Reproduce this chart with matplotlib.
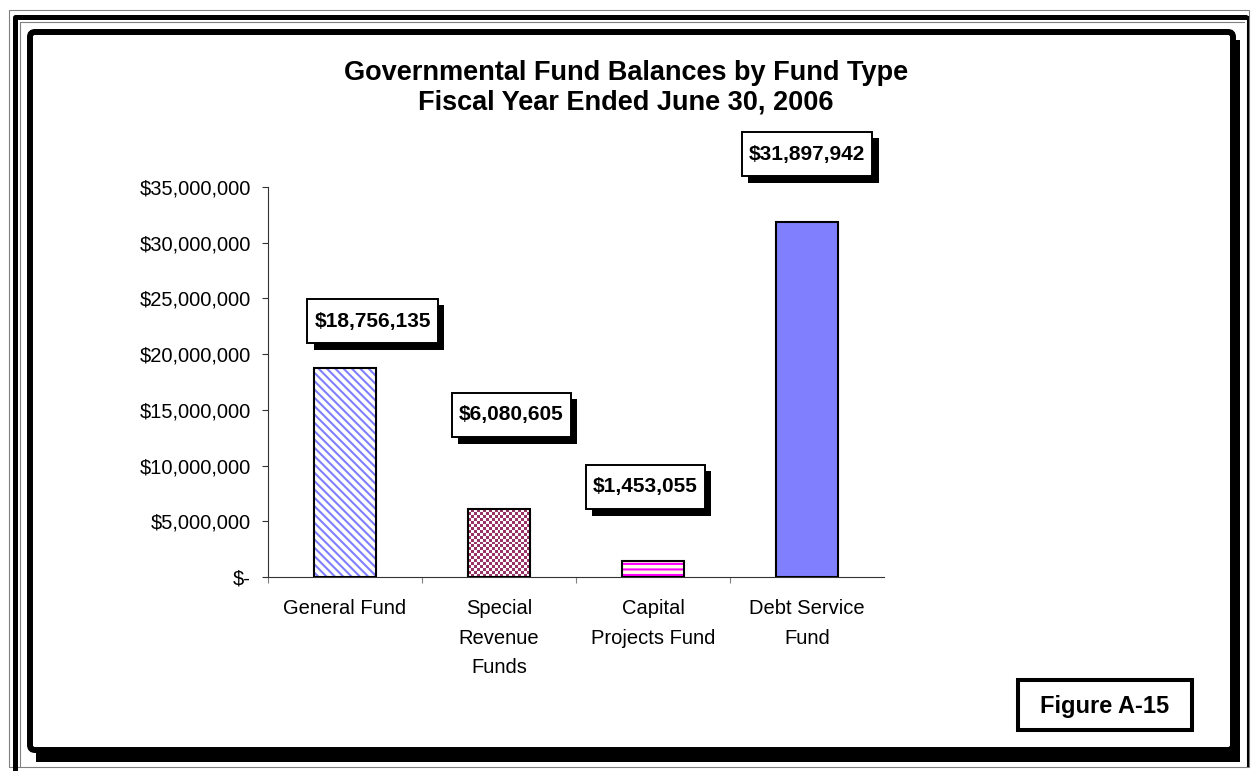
import matplotlib
matplotlib.use('Agg')
import matplotlib.pyplot as plt
import matplotlib.patches as patches
import matplotlib.patheffects as pe
from matplotlib.colors import ListedColormap
from matplotlib.path import Path
from matplotlib.ticker import FuncFormatter, FixedLocator
import numpy as np

plt.rcParams['font.family'] = ['Liberation Sans', 'DejaVu Sans']
plt.rcParams['hatch.linewidth'] = 1.5

# data
funds = ['General Fund', 'Special\nRevenue\nFunds', 'Capital\nProjects Fund', 'Debt Service\nFund']
balances = [18756135, 6080605, 1453055, 31897942]
# where the value boxes sit (category units, dollars)
label_pos = [(0.18, 22.97e6), (1.08, 14.54e6), (1.95, 8.08e6), (3.0, 37.96e6)]

W, H = 1252, 771
fig = plt.figure(figsize=(W / 100, H / 100), dpi=100)


def label_box(x0, y0, width, height, mutation_size):
    # wider top/bottom padding than sides, like the Excel data labels
    px, py = 0.34 * mutation_size, 0.62 * mutation_size
    x0, y0 = x0 - px, y0 - py
    x1, y1 = x0 + width + 2 * px, y0 + height + 2 * py
    return Path([(x0, y0), (x1, y0), (x1, y1), (x0, y1), (x0, y0)], closed=True)


# background / frame, in pixel coords
bg = fig.add_axes([0, 0, 1, 1], zorder=0)
bg.set_xlim(0, W)
bg.set_ylim(H, 0)
bg.axis('off')

bg.add_patch(patches.Rectangle((9, 10), 1240, 757, fill=False, ec='#808080', lw=0.8))
bg.plot([15, 15, 1247], [771, 17, 17], color='black', lw=3.6, solid_capstyle='butt')
bg.plot([1247.5, 1247.5], [17, 766], color='black', lw=1.5)
bg.plot([20, 20, 1244], [766, 22, 22], color='#808080', lw=0.8)

# inner frame with shadow
bg.add_patch(patches.Rectangle((36, 40), 1204, 722, fc='black', ec='none'))
bg.add_patch(patches.FancyBboxPatch((30, 32), 1203, 718,
                                    boxstyle='round,pad=0,rounding_size=5',
                                    fc='white', ec='black', lw=4.3))

# figure tag
bg.add_patch(patches.Rectangle((1018, 680), 174, 50, fc='white', ec='black', lw=2.9))
bg.text(1105, 706, 'Figure A-15', ha='center', va='center',
        fontsize=17, fontweight='bold')

fig.text(0.5, 1 - 88 / H,
         'Governmental Fund Balances by Fund Type\nFiscal Year Ended June 30, 2006',
         ha='center', va='center', fontsize=19.5, fontweight='bold', linespacing=1.2)

# main chart
ax = fig.add_axes([268 / W, 1 - 577 / H, 616 / W, 390 / H], zorder=1)
ax.patch.set_alpha(0)

x = np.arange(len(funds))
bw = 0.4

ax.set_xlim(-0.5, len(funds) - 0.5)
ax.set_ylim(0, 35e6)

# General Fund: blue diagonal stripes
ax.bar(x[0], balances[0], bw, color='white', hatch='\\\\\\\\', edgecolor='#7f7fff', lw=0, zorder=2)
ax.bar(x[0], balances[0], bw, fill=False, edgecolor='black', lw=1.5, zorder=4)

# Special Revenue: maroon checker
sr = ax.bar(x[1], balances[1], bw, fill=False, edgecolor='black', lw=1.5, zorder=4)[0]
bb = sr.get_window_extent()
nx = max(2, int(round(bb.width / 3)))
ny = max(2, int(round(bb.height / 3)))
checker = np.add.outer(np.arange(ny), np.arange(nx)) % 2
im = ax.imshow(checker, extent=(sr.get_x(), sr.get_x() + sr.get_width(), 0, sr.get_height()),
               cmap=ListedColormap(['white', '#993366']), interpolation='nearest',
               aspect='auto', zorder=2)
im.set_clip_path(sr)

# Capital Projects: magenta horizontal stripes
ax.bar(x[2], balances[2], bw, color='#ffffe8', hatch='---', edgecolor='#ff00ff', lw=0, zorder=2)
ax.bar(x[2], balances[2], bw, fill=False, edgecolor='black', lw=1.5, zorder=4)

# Debt Service: solid periwinkle
ax.bar(x[3], balances[3], bw, color='#8080ff', edgecolor='black', lw=1.5, zorder=3)

ax.set_xlim(-0.5, len(funds) - 0.5)
ax.set_ylim(0, 35e6)

for (lx, ly), v in zip(label_pos, balances):
    t = ax.text(lx, ly, f'${v:,.0f}', ha='center', va='center', fontsize=15,
                fontweight='bold', clip_on=False, zorder=5,
                bbox=dict(boxstyle=label_box, fc='white', ec='black', lw=1.4))
    t.get_bbox_patch().set_path_effects([
        pe.SimplePatchShadow(offset=(4.5, -4.5), shadow_rgbFace='black', alpha=1),
        pe.Normal()])

for s in ['top', 'right']:
    ax.spines[s].set_visible(False)
for s in ['left', 'bottom']:
    ax.spines[s].set_linewidth(0.8)
    ax.spines[s].set_color('#333333')

ax.yaxis.set_major_locator(FixedLocator(np.arange(0, 35e6 + 1, 5e6)))
ax.yaxis.set_major_formatter(FuncFormatter(lambda v, p: '$-' if v == 0 else f'${v:,.0f}'))
ax.tick_params(axis='y', length=4.3, width=0.8, pad=8, labelsize=14.5, color='#333333')

ax.set_xticks(x)
ax.set_xticklabels(funds, fontsize=14.5, linespacing=1.7, va='top')
ax.set_xticks([-0.5, 0.5, 1.5, 2.5], minor=True)
ax.tick_params(axis='x', which='major', length=0, pad=16)
ax.tick_params(axis='x', which='minor', length=4.3, width=0.8, color='#808080')

fig.savefig('out.png', dpi=100)
